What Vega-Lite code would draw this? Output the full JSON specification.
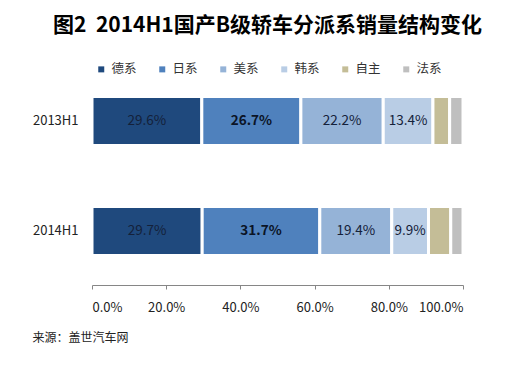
{
  "$schema": "https://vega.github.io/schema/vega-lite/v6.json",
  "width": 371,
  "height": 218,
  "autosize": "none",
  "padding": {"left": 92, "top": 67, "right": 51, "bottom": 82},
  "background": "white",
  "config": {"font": "Noto Sans CJK SC", "view": {"stroke": null}},
  "title": {
    "text": "图2\u00a0\u00a02014H1国产B级轿车分派系销量结构变化",
    "fontSize": 21,
    "fontWeight": "bold",
    "color": "#000000",
    "anchor": "middle",
    "frame": "group",
    "dx": -10,
    "offset": 27
  },
  "data": {
    "values": [
      {"period": "2013H1", "origin": "德系", "k": 1, "share": 0.296},
      {"period": "2013H1", "origin": "日系", "k": 2, "share": 0.267},
      {"period": "2013H1", "origin": "美系", "k": 3, "share": 0.222},
      {"period": "2013H1", "origin": "韩系", "k": 4, "share": 0.134},
      {"period": "2013H1", "origin": "自主", "k": 5, "share": 0.045},
      {"period": "2013H1", "origin": "法系", "k": 6, "share": 0.036},
      {"period": "2014H1", "origin": "德系", "k": 1, "share": 0.297},
      {"period": "2014H1", "origin": "日系", "k": 2, "share": 0.317},
      {"period": "2014H1", "origin": "美系", "k": 3, "share": 0.194},
      {"period": "2014H1", "origin": "韩系", "k": 4, "share": 0.099},
      {"period": "2014H1", "origin": "自主", "k": 5, "share": 0.060},
      {"period": "2014H1", "origin": "法系", "k": 6, "share": 0.033}
    ]
  },
  "transform": [
    {"stack": "share", "groupby": ["period"], "sort": [{"field": "k"}], "as": ["v0", "v1"]},
    {"calculate": "(datum.v0 + datum.v1) / 2", "as": "mid"}
  ],
  "encoding": {
    "y": {
      "field": "period",
      "type": "nominal",
      "sort": ["2013H1", "2014H1"],
      "scale": {"paddingInner": 0.555, "paddingOuter": 0.268},
      "axis": {
        "title": null,
        "domain": false,
        "ticks": false,
        "labelPadding": 14,
        "labelFontSize": 13,
        "labelColor": "#222222"
      }
    }
  },
  "layer": [
    {
      "mark": {"type": "bar", "stroke": "white", "strokeWidth": 3},
      "encoding": {
        "x": {
          "field": "v0",
          "type": "quantitative",
          "scale": {"domain": [0, 1], "nice": false},
          "axis": {
            "values": [0, 0.2, 0.4, 0.6, 0.8, 1],
            "format": ".1%",
            "grid": false,
            "domainColor": "#868686",
            "tickColor": "#868686",
            "tickSize": 4,
            "labelPadding": 12,
            "labelFontSize": 13,
            "labelColor": "#222222",
            "title": "来源：盖世汽车网",
            "titleFontSize": 12,
            "titleFontWeight": "normal",
            "titleColor": "#222222",
            "titleAlign": "left",
            "titleBaseline": "middle",
            "titleAnchor": "start",
            "titleX": -60,
            "titleY": 52
          }
        },
        "x2": {"field": "v1"},
        "color": {
          "field": "origin",
          "type": "nominal",
          "scale": {
            "domain": ["德系", "日系", "美系", "韩系", "自主", "法系"],
            "range": ["#1F497D", "#4F81BD", "#95B3D7", "#B9CDE5", "#C4BD97", "#BFBFBF"]
          },
          "legend": {
            "title": null,
            "orient": "none",
            "direction": "horizontal",
            "legendX": 3,
            "legendY": -4,
            "padding": 0,
            "symbolType": "square",
            "symbolSize": 36,
            "symbolStrokeWidth": 0,
            "labelFontSize": 12.5,
            "labelColor": "#333333",
            "labelOffset": 4,
            "columnPadding": 19
          }
        }
      }
    },
    {
      "transform": [{"filter": "datum.k <= 4 && datum.k != 2"}],
      "mark": {"type": "text", "fontSize": 13.5, "color": "#14213a", "align": "center", "baseline": "middle"},
      "encoding": {
        "x": {"field": "mid", "type": "quantitative"},
        "text": {"field": "share", "type": "quantitative", "format": ".1%"}
      }
    },
    {
      "transform": [{"filter": "datum.k == 2"}],
      "mark": {"type": "text", "fontSize": 13.5, "fontWeight": "bold", "color": "#0b1426", "align": "center", "baseline": "middle"},
      "encoding": {
        "x": {"field": "mid", "type": "quantitative"},
        "text": {"field": "share", "type": "quantitative", "format": ".1%"}
      }
    }
  ]
}
